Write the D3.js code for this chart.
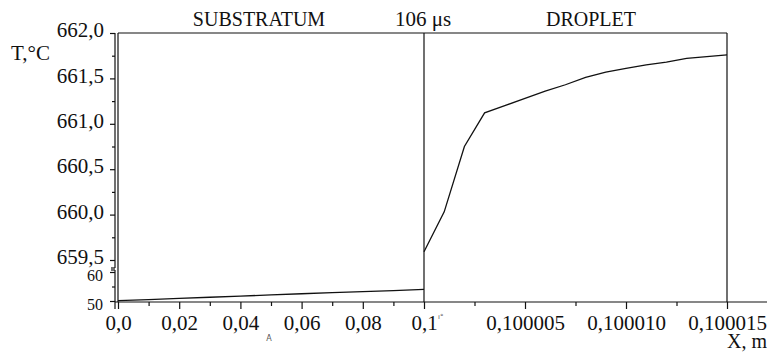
<!DOCTYPE html>
<html><head><meta charset="utf-8">
<script src="https://cdn.jsdelivr.net/npm/d3@7"></script>
<style>
html,body{margin:0;padding:0;background:#fff;}
svg{display:block;}
</style></head>
<body><svg id="c" width="767" height="354"></svg>
<script>
// ---- data ----
const subX = [0, 0.01, 0.02, 0.03, 0.04, 0.05, 0.06, 0.07, 0.08, 0.09, 0.1];
const subT = [50.1, 50.5, 50.9, 51.3, 51.7, 52.1, 52.5, 52.9, 53.2, 53.6, 54.0];
const dropX = [0.1, 0.100001, 0.100002, 0.100003, 0.100004, 0.100005, 0.100006, 0.100007,
               0.100008, 0.100009, 0.10001, 0.100011, 0.100012, 0.100013, 0.100014, 0.100015];
const dropT = [659.59, 660.03, 660.75, 661.12, 661.20, 661.28, 661.36, 661.43,
               661.51, 661.57, 661.61, 661.65, 661.68, 661.72, 661.74, 661.76];
const leftTicks = [0, 0.02, 0.04, 0.06, 0.08, 0.1];
const leftTickLabels = ["0,0", "0,02", "0,04", "0,06", "0,08", "0,1"];
const leftMinor = [0.01, 0.03, 0.05, 0.07, 0.09];
const rightTicks = [0.100005, 0.10001, 0.100015];
const rightTickLabels = ["0,100005", "0,100010", "0,100015"];
const rightMinor = [0.1000025, 0.1000075, 0.1000125];
const upperTicks = [659.5, 660.0, 660.5, 661.0, 661.5, 662.0];
const upperTickLabels = ["659,5", "660,0", "660,5", "661,0", "661,5", "662,0"];
const upperMinor = [659.75, 660.25, 660.75, 661.25, 661.75];
const lowerTicks = [50, 60];
const lowerTickLabels = ["50", "60"];
const lowerMinor = [55];

// ---- scales ----
const FONT = "Liberation Serif";
const svg = d3.select("#c");
const xL = d3.scaleLinear().domain([0, 0.1]).range([118, 424]);
const xR = d3.scaleLinear().domain([0.1, 0.100015]).range([424, 727]);
const yU = d3.scaleLinear().domain([659.5, 662]).range([260, 33]);
const yL = d3.scaleLinear().domain([50, 60]).range([301, 272]);
const baseY = 302;
const axisX = 115;
const col = "#111";

// frame
const g = svg.append("g").attr("stroke", col).attr("stroke-width", 1.2).attr("fill", "none");
g.append("line").attr("x1", xL(0)).attr("x2", xR(0.100015)).attr("y1", yU(662)).attr("y2", yU(662));
g.append("line").attr("x1", xL(0)).attr("x2", xL(0)).attr("y1", yU(662)).attr("y2", baseY);
g.append("line").attr("x1", xL(0.1)).attr("x2", xL(0.1)).attr("y1", yU(662)).attr("y2", baseY);
g.append("line").attr("x1", xR(0.100015)).attr("x2", xR(0.100015)).attr("y1", yU(662)).attr("y2", baseY);
// x axis baseline
g.append("line").attr("x1", axisX).attr("x2", 767).attr("y1", baseY).attr("y2", baseY);
// y axis segments (broken)
g.append("line").attr("x1", axisX).attr("x2", axisX).attr("y1", yU(662)).attr("y2", 268);
g.append("line").attr("x1", axisX - 4).attr("x2", axisX).attr("y1", 268).attr("y2", 268);
g.append("line").attr("x1", axisX).attr("x2", axisX).attr("y1", 270).attr("y2", 309);
g.append("line").attr("x1", axisX - 4).attr("x2", axisX).attr("y1", 270).attr("y2", 270);

// axes with d3
function styleAxis(sel, fs) {
  sel.attr("font-family", FONT).attr("font-size", fs);
  sel.select(".domain").remove();
  sel.selectAll(".tick line").attr("stroke", col).attr("stroke-width", 1.2);
  sel.selectAll(".tick text").attr("fill", col).attr("font-family", FONT).attr("font-size", fs);
}
const axL = svg.append("g").attr("transform", `translate(0,${baseY})`)
  .call(d3.axisBottom(xL).tickValues(leftTicks).tickSize(7).tickPadding(6)
        .tickFormat((d, i) => leftTickLabels[i]));
styleAxis(axL, 21);
const axLm = svg.append("g").attr("transform", `translate(0,${baseY})`)
  .call(d3.axisBottom(xL).tickValues(leftMinor).tickSize(4).tickFormat(""));
styleAxis(axLm, 21);
const axR = svg.append("g").attr("transform", `translate(0,${baseY})`)
  .call(d3.axisBottom(xR).tickValues(rightTicks).tickSize(7).tickPadding(6)
        .tickFormat((d, i) => rightTickLabels[i]));
styleAxis(axR, 21);
const axRm = svg.append("g").attr("transform", `translate(0,${baseY})`)
  .call(d3.axisBottom(xR).tickValues(rightMinor).tickSize(4).tickFormat(""));
styleAxis(axRm, 21);

const ayU = svg.append("g").attr("transform", `translate(${axisX},0)`)
  .call(d3.axisLeft(yU).tickValues(upperTicks).tickSize(5).tickPadding(6)
        .tickFormat((d, i) => upperTickLabels[i]));
styleAxis(ayU, 21);
ayU.selectAll(".tick text").attr("dy", "0.18em");
const ayUm = svg.append("g").attr("transform", `translate(${axisX},0)`)
  .call(d3.axisLeft(yU).tickValues(upperMinor).tickSize(3).tickFormat(""));
styleAxis(ayUm, 21);
const ayL = svg.append("g").attr("transform", `translate(${axisX},0)`)
  .call(d3.axisLeft(yL).tickValues(lowerTicks).tickSize(5).tickPadding(7)
        .tickFormat((d, i) => lowerTickLabels[i]));
styleAxis(ayL, 16);
ayL.selectAll(".tick text").attr("dy", "0.5em");
const ayLm = svg.append("g").attr("transform", `translate(${axisX},0)`)
  .call(d3.axisLeft(yL).tickValues(lowerMinor).tickSize(3).tickFormat(""));
styleAxis(ayLm, 16);

// data lines
const lineSub = d3.line().x((d, i) => xL(subX[i])).y(d => yL(d));
svg.append("path").datum(subT).attr("d", lineSub)
  .attr("fill", "none").attr("stroke", col).attr("stroke-width", 1.3);
const lineDrop = d3.line().x((d, i) => xR(dropX[i])).y(d => yU(d));
svg.append("path").datum(dropT).attr("d", lineDrop)
  .attr("fill", "none").attr("stroke", col).attr("stroke-width", 1.3);

// texts
const t = (x, y, s, fs, anchor) => svg.append("text").attr("x", x).attr("y", y)
  .attr("text-anchor", anchor || "start").attr("fill", col)
  .attr("font-family", FONT).attr("font-size", fs).text(s);
t(11, 60, "T,°C", 21);
t(259, 26, "SUBSTRATUM", 20, "middle");
t(395, 26, "106 μs", 21);
t(591, 26, "DROPLET", 20, "middle");
t(727, 348, "X, m", 20);
svg.append("text").attr("x", 269).attr("y", 341).attr("text-anchor", "middle")
  .attr("fill", "#555").attr("font-family", "DejaVu Sans").attr("font-size", 8).text("A");
svg.append("text").attr("x", 438).attr("y", 319)
  .attr("fill", "#555").attr("font-family", "DejaVu Sans").attr("font-size", 7).text("ı°");
</script></body></html>
